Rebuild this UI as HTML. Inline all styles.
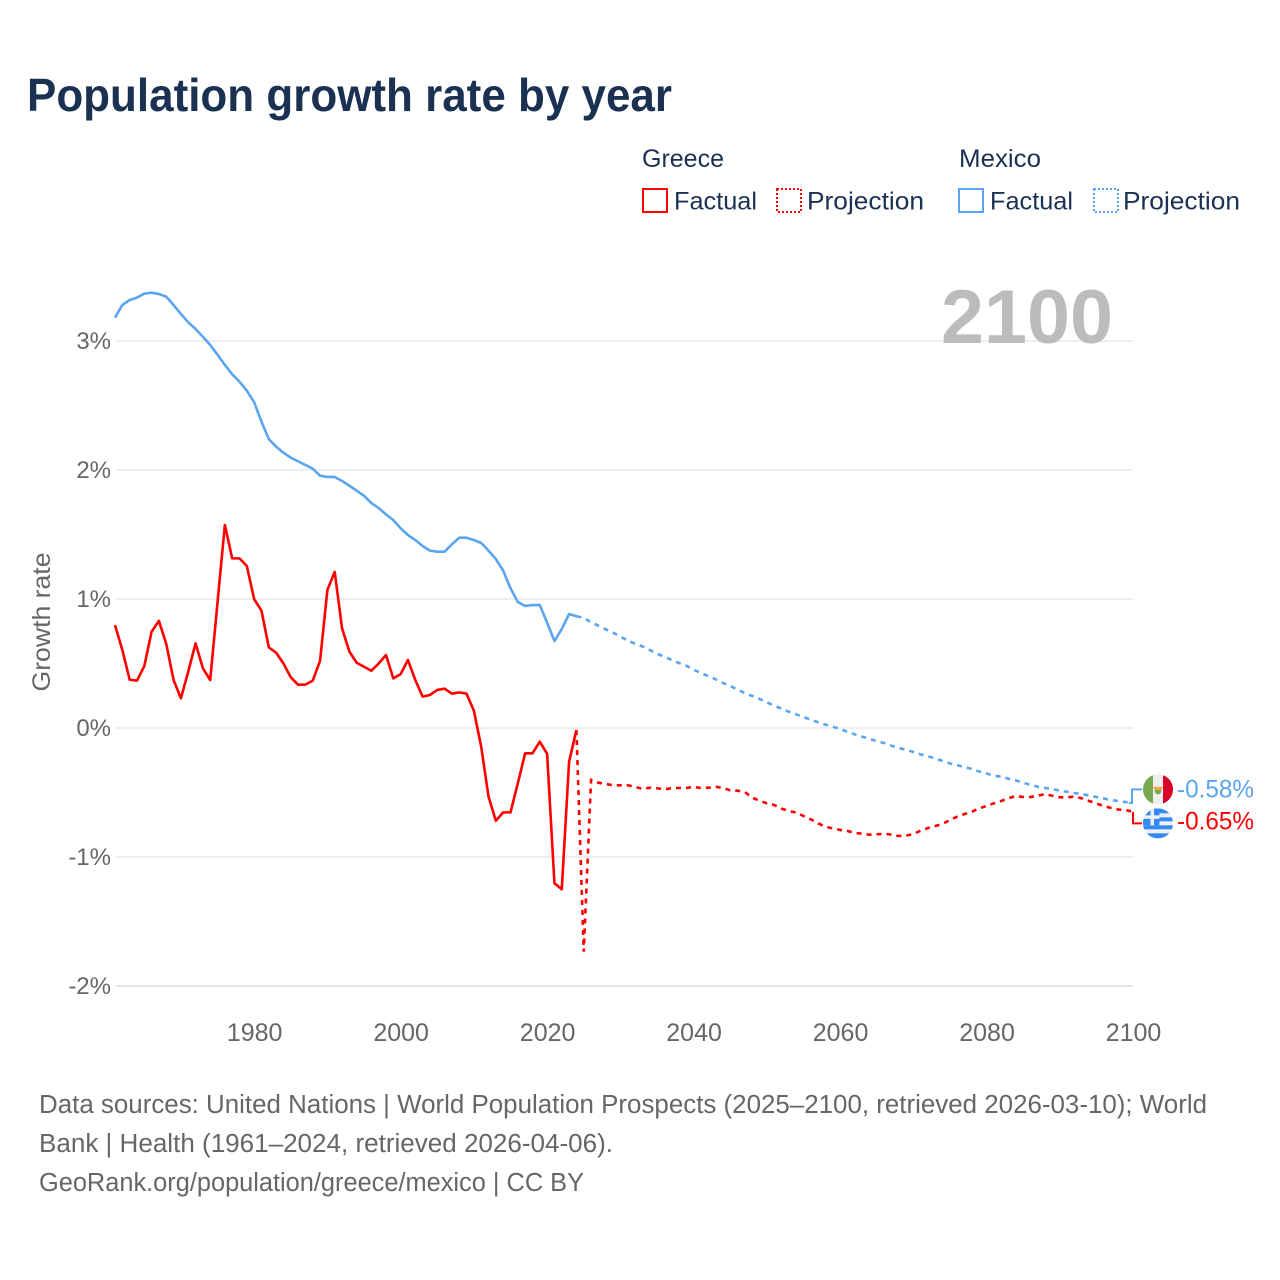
<!DOCTYPE html>
<html lang="en">
<head>
<meta charset="utf-8">
<title>Population growth rate by year</title>
<style>
  html, body { margin: 0; padding: 0; background: #fff; }
  svg { display: block; font-family: "Liberation Sans", sans-serif; }
</style>
</head>
<body>
<svg id="chart" xmlns="http://www.w3.org/2000/svg" width="1280" height="1280" viewBox="0 0 1280 1280">
  <defs>
    <clipPath id="flag-clip-mx"><circle cx="15" cy="15" r="15"/></clipPath>
    <clipPath id="flag-clip-gr"><circle cx="15" cy="15" r="15"/></clipPath>
  </defs>
  <rect width="1280" height="1280" fill="#ffffff"/>

  <text x="27" y="111" font-size="46" font-weight="700" fill="#1a3152" textLength="645" lengthAdjust="spacingAndGlyphs">Population growth rate by year</text>

  <g font-size="25" fill="#1a3152">
    <text x="642" y="167" textLength="82" lengthAdjust="spacingAndGlyphs">Greece</text>
    <rect x="643" y="189" width="24" height="23" fill="none" stroke="#ff0000" stroke-width="2"/>
    <text x="674" y="209.500" textLength="83" lengthAdjust="spacingAndGlyphs">Factual</text>
    <rect x="777" y="189" width="24" height="23" fill="none" stroke="#ff0000" stroke-width="2" stroke-dasharray="2 2"/>
    <text x="807" y="209.500" textLength="117" lengthAdjust="spacingAndGlyphs">Projection</text>

    <text x="959" y="167" textLength="82" lengthAdjust="spacingAndGlyphs">Mexico</text>
    <rect x="959" y="189" width="24" height="23" fill="none" stroke="#5ba5f0" stroke-width="2"/>
    <text x="990" y="209.500" textLength="83" lengthAdjust="spacingAndGlyphs">Factual</text>
    <rect x="1094" y="189" width="24" height="23" fill="none" stroke="#5ba5f0" stroke-width="2" stroke-dasharray="2 2"/>
    <text x="1123" y="209.500" textLength="117" lengthAdjust="spacingAndGlyphs">Projection</text>
  </g>

  <g id="grid"></g>
  <text x="941" y="343" font-size="76" font-weight="700" fill="#bcbcbc" textLength="172" lengthAdjust="spacingAndGlyphs">2100</text>
  <g id="yticks"></g>
  <g id="xticks"></g>
  <text transform="translate(50 622) rotate(-90)" text-anchor="middle" font-size="25" fill="#666666" textLength="139" lengthAdjust="spacingAndGlyphs">Growth rate</text>

  <g id="series"></g>
  <g id="endlabels"></g>

  <g id="flag-mexico">
    <g clip-path="url(#flag-clip-mx)">
      <rect width="30" height="30" fill="#eeeeee"/>
      <rect width="10" height="30" fill="#78a94f"/>
      <rect x="20" width="10" height="30" fill="#d80027"/>
      <path d="M10 12.500 L20 12.500 L18 15.500 L12 15.500 Z" fill="#f2a33a"/>
      <path d="M11.500 15.500 L18.500 15.500 Q18 20 15 20 Q12 20 11.500 15.500 Z" fill="#78a94f"/>
    </g>
  </g>
  <g id="flag-greece">
    <g clip-path="url(#flag-clip-gr)">
      <rect width="30" height="30" fill="#f0f0f0"/>
      <rect y="0" width="30" height="5" fill="#338af3"/>
      <rect y="9" width="30" height="4" fill="#338af3"/>
      <rect y="17" width="30" height="4" fill="#338af3"/>
      <rect y="25" width="30" height="5" fill="#338af3"/>
      <rect x="0" y="0" width="16.500" height="17" fill="#338af3"/>
      <rect x="7.500" y="0" width="3.500" height="17" fill="#f0f0f0"/>
      <rect x="0" y="7" width="16.500" height="3.500" fill="#f0f0f0"/>
    </g>
  </g>

  <g font-size="25.5" fill="#666666">
    <text x="39" y="1113" textLength="1168" lengthAdjust="spacingAndGlyphs">Data sources: United Nations | World Population Prospects (2025–2100, retrieved 2026-03-10); World</text>
    <text x="39" y="1152" textLength="574" lengthAdjust="spacingAndGlyphs">Bank | Health (1961–2024, retrieved 2026-04-06).</text>
    <text x="39" y="1191" textLength="545" lengthAdjust="spacingAndGlyphs">GeoRank.org/population/greece/mexico | CC BY</text>
  </g>

<script>
var factualStartYear = 1961;
var projectionStartYear = 2024;
var xTickYears = [1980, 2000, 2020, 2040, 2060, 2080, 2100];
var yTickValues = [3, 2, 1, 0, -1, -2];

var greeceFactual = [
  0.798, 0.605, 0.375, 0.367, 0.48, 0.747, 0.83, 0.651, 0.372, 0.23,
  0.437, 0.656, 0.463, 0.372, 0.975, 1.574, 1.315, 1.315, 1.256, 0.998,
  0.91, 0.625, 0.584, 0.50, 0.393, 0.336, 0.336, 0.367, 0.522, 1.07,
  1.21, 0.773, 0.592, 0.506, 0.475, 0.444, 0.50, 0.566, 0.385, 0.418,
  0.527, 0.372, 0.243, 0.256, 0.295, 0.305, 0.266, 0.276, 0.266, 0.134,
  -0.145, -0.532, -0.719, -0.654, -0.654, -0.429, -0.196, -0.196, -0.106, -0.20,
  -1.204, -1.25, -0.261, -0.016
];
var greeceProjection = [
  -0.016, -1.734, -0.403, -0.424, -0.434, -0.444, -0.444, -0.444, -0.455, -0.473,
  -0.463, -0.467, -0.475, -0.467, -0.465, -0.465, -0.457, -0.465, -0.463, -0.455,
  -0.465, -0.483, -0.486, -0.496, -0.54, -0.563, -0.584, -0.597, -0.625, -0.643,
  -0.656, -0.682, -0.708, -0.739, -0.765, -0.778, -0.79, -0.798, -0.814, -0.819,
  -0.827, -0.824, -0.819, -0.827, -0.837, -0.835, -0.822, -0.796, -0.775, -0.76,
  -0.744, -0.713, -0.687, -0.667, -0.649, -0.623, -0.605, -0.584, -0.566, -0.545,
  -0.527, -0.535, -0.535, -0.525, -0.512, -0.525, -0.537, -0.537, -0.532, -0.545,
  -0.566, -0.585, -0.605, -0.62, -0.632, -0.636, -0.65
];
var mexicoFactual = [
  3.181, 3.279, 3.318, 3.336, 3.367, 3.375, 3.364, 3.344, 3.279, 3.209,
  3.145, 3.093, 3.033, 2.969, 2.894, 2.814, 2.742, 2.685, 2.615, 2.525,
  2.375, 2.24, 2.181, 2.134, 2.095, 2.067, 2.039, 2.01, 1.956, 1.946,
  1.946, 1.915, 1.878, 1.84, 1.80, 1.744, 1.705, 1.656, 1.612, 1.548,
  1.496, 1.457, 1.411, 1.375, 1.367, 1.367, 1.424, 1.475, 1.475, 1.457,
  1.434, 1.375, 1.31, 1.22, 1.083, 0.977, 0.946, 0.953, 0.953, 0.816,
  0.674, 0.767, 0.884, 0.866
];
var mexicoProjection = [
  0.866, 0.855, 0.819, 0.793, 0.765, 0.739, 0.71, 0.677, 0.654, 0.633,
  0.605, 0.576, 0.553, 0.527, 0.504, 0.483, 0.452, 0.426, 0.403, 0.378,
  0.349, 0.326, 0.297, 0.271, 0.248, 0.225, 0.199, 0.173, 0.15, 0.126,
  0.106, 0.085, 0.064, 0.044, 0.026, 0.01, -0.008, -0.029, -0.049, -0.067,
  -0.085, -0.101, -0.116, -0.137, -0.155, -0.168, -0.186, -0.204, -0.219, -0.236,
  -0.256, -0.274, -0.289, -0.302, -0.318, -0.337, -0.353, -0.37, -0.377, -0.393,
  -0.406, -0.424, -0.442, -0.455, -0.465, -0.473, -0.486, -0.494, -0.504, -0.512,
  -0.523, -0.535, -0.547, -0.558, -0.566, -0.574, -0.58
];

var SVG_NS = 'http://www.w3.org/2000/svg';
var RED = '#ff0000';
var BLUE = '#5ba5f0';

function xScale(year) { return 115 + (year - 1961) * 7.324; }
function yScale(value) { return 728 - value * 129; }

function svgEl(tag, parentId) {
  var el = document.createElementNS(SVG_NS, tag);
  document.getElementById(parentId).appendChild(el);
  return el;
}

function linePath(values, startYear) {
  var d = '';
  for (var i = 0; i < values.length; i++) {
    d += (i === 0 ? 'M' : 'L') + xScale(startYear + i).toFixed(2) + ' ' + yScale(values[i]).toFixed(2);
  }
  return d;
}

yTickValues.forEach(function (v) {
  var line = svgEl('line', 'grid');
  
  
  line.setAttribute('x1', 116);
  line.setAttribute('x2', 1133);
  line.setAttribute('y1', yScale(v));
  line.setAttribute('y2', yScale(v));
  line.setAttribute('stroke', v === -2 ? '#e4e4ea' : '#eeeeee');
  line.setAttribute('stroke-width', 2);

  var label = svgEl('text', 'yticks');
  
  
  label.setAttribute('x', 111);
  label.setAttribute('y', yScale(v) + 8);
  label.setAttribute('text-anchor', 'end');
  label.setAttribute('font-size', 24);
  label.setAttribute('fill', '#666666');
  label.textContent = v + '%';
});

xTickYears.forEach(function (year) {
  var label = svgEl('text', 'xticks');
  
  
  label.setAttribute('x', xScale(year) + 0.5);
  label.setAttribute('y', 1041);
  label.setAttribute('text-anchor', 'middle');
  label.setAttribute('font-size', 25);
  label.setAttribute('fill', '#666666');
  label.textContent = String(year);
});

var mexicoProjLine = svgEl('path', 'series');


mexicoProjLine.setAttribute('d', linePath(mexicoProjection, projectionStartYear));
mexicoProjLine.setAttribute('fill', 'none');
mexicoProjLine.setAttribute('stroke', BLUE);
mexicoProjLine.setAttribute('stroke-width', 2.6);
mexicoProjLine.setAttribute('stroke-dasharray', '5 5');

var mexicoLine = svgEl('path', 'series');


mexicoLine.setAttribute('d', linePath(mexicoFactual, factualStartYear));
mexicoLine.setAttribute('fill', 'none');
mexicoLine.setAttribute('stroke', BLUE);
mexicoLine.setAttribute('stroke-width', 2.6);
mexicoLine.setAttribute('stroke-linejoin', 'round');

var greeceProjLine = svgEl('path', 'series');


greeceProjLine.setAttribute('d', linePath(greeceProjection, projectionStartYear));
greeceProjLine.setAttribute('fill', 'none');
greeceProjLine.setAttribute('stroke', RED);
greeceProjLine.setAttribute('stroke-width', 2.6);
greeceProjLine.setAttribute('stroke-dasharray', '5 5');

var greeceLine = svgEl('path', 'series');


greeceLine.setAttribute('d', linePath(greeceFactual, factualStartYear));
greeceLine.setAttribute('fill', 'none');
greeceLine.setAttribute('stroke', RED);
greeceLine.setAttribute('stroke-width', 2.6);
greeceLine.setAttribute('stroke-linejoin', 'round');

/* End labels: flags sit either side of the midpoint of the two series' last values. */
var greeceLast = greeceProjection[greeceProjection.length - 1];
var mexicoLast = mexicoProjection[mexicoProjection.length - 1];
var endMid = (yScale(greeceLast) + yScale(mexicoLast)) / 2;
var mexicoRowY = endMid - 18;
var greeceRowY = endMid + 16;
var endX = xScale(2100);

var mexicoConnector = svgEl('path', 'endlabels');


mexicoConnector.setAttribute('d', 'M' + (endX - 4) + ' ' + yScale(mexicoLast) + 'L' + (endX - 1) + ' ' + yScale(mexicoLast) + 'L' + (endX - 1) + ' ' + mexicoRowY + 'L' + (endX + 9) + ' ' + mexicoRowY);
mexicoConnector.setAttribute('fill', 'none');
mexicoConnector.setAttribute('stroke', BLUE);
mexicoConnector.setAttribute('stroke-width', 2);

var greeceConnector = svgEl('path', 'endlabels');


greeceConnector.setAttribute('d', 'M' + endX + ' ' + yScale(greeceLast) + 'L' + endX + ' ' + greeceRowY + 'L' + (endX + 9) + ' ' + greeceRowY);
greeceConnector.setAttribute('fill', 'none');
greeceConnector.setAttribute('stroke', RED);
greeceConnector.setAttribute('stroke-width', 2);

var mexicoLabel = svgEl('text', 'endlabels');


mexicoLabel.setAttribute('x', 1177);
mexicoLabel.setAttribute('y', mexicoRowY + 8);
mexicoLabel.setAttribute('font-size', 25);
mexicoLabel.setAttribute('fill', BLUE);
mexicoLabel.setAttribute('textLength', 77);
mexicoLabel.setAttribute('lengthAdjust', 'spacingAndGlyphs');
mexicoLabel.textContent = mexicoLast.toFixed(2) + '%';

var greeceLabel = svgEl('text', 'endlabels');


greeceLabel.setAttribute('x', 1177);
greeceLabel.setAttribute('y', greeceRowY + 6);
greeceLabel.setAttribute('font-size', 25);
greeceLabel.setAttribute('fill', RED);
greeceLabel.setAttribute('textLength', 77);
greeceLabel.setAttribute('lengthAdjust', 'spacingAndGlyphs');
greeceLabel.textContent = greeceLast.toFixed(2) + '%';

document.getElementById('flag-mexico').setAttribute('transform', 'translate(1143 ' + (mexicoRowY - 15) + ')');
document.getElementById('flag-greece').setAttribute('transform', 'translate(1143 ' + (greeceRowY - 15) + ')');
</script>
</svg>
</body>
</html>
